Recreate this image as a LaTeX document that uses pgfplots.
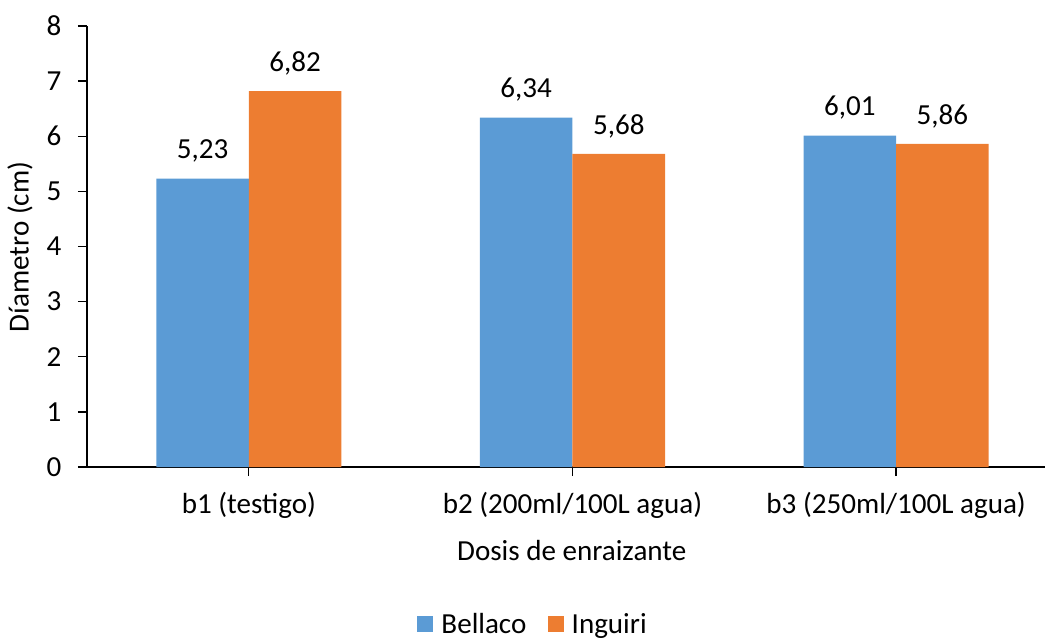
\documentclass[border=0pt]{standalone}
\usepackage{pgfplots}
\pgfplotsset{compat=1.18}
\usepackage{fontspec}
\setmainfont{Carlito}
\definecolor{bellaco}{HTML}{5B9BD5}
\definecolor{inguiri}{HTML}{ED7D31}
\newcommand{\chartfont}{\fontsize{21.8pt}{25pt}\selectfont}
\begin{document}
\begin{tikzpicture}[x=0.75pt,y=0.75pt]
\path[use as bounding box] (-87,-172) rectangle (958,467);
\begin{axis}[
  at={(0,0)}, anchor=south west,
  scale only axis,
  width=718.5pt, height=330.75pt,
  ybar=0pt, bar width=69.4pt,
  xmin=-0.5, xmax=2.46,
  ymin=0, ymax=8, ytick={0,1,...,8},
  xtick=data,
  xticklabels={b1 (testigo), b2 (200ml/100L agua), b3 (250ml/100L agua)},
  axis x line*=bottom, axis y line*=left,
  axis line style={black, line width=1pt, -},
  tick style={black, line width=1pt},
  tick align=outside, major tick length=6.75pt,
  /pgf/number format/assume math mode=true,
  ticklabel style={font=\chartfont},
  label style={font=\chartfont},
  yticklabel style={xshift=-9pt},
  xticklabel style={yshift=-9pt},
  xlabel={Dosis de enraizante},
  ylabel={Díametro (cm)},
  xlabel style={at={(axis description cs:0.506,-0.19)}, anchor=center},
  ylabel style={at={(axis description cs:-0.07,0.499)}, anchor=center},
  nodes near coords,
  nodes near coords style={font=\chartfont, yshift=8.5pt,
    /pgf/number format/.cd, fixed, fixed zerofill, precision=2, use comma, assume math mode=true},
  legend style={at={(axis description cs:0.466,-0.356)}, anchor=center,
    draw=none, legend columns=2, font=\chartfont,
    /tikz/every odd column/.append style={column sep=4pt},
    /tikz/every even column/.append style={column sep=14pt}},
  legend image code/.code={\fill[#1] (0pt,-6pt) rectangle (12pt,6pt);},
]
\addplot[fill=bellaco, draw=none] coordinates {(0,5.23) (1,6.34) (2,6.01)};
\addplot[fill=inguiri, draw=none] coordinates {(0,6.82) (1,5.68) (2,5.86)};
\legend{Bellaco, Inguiri}
\end{axis}
\end{tikzpicture}
\end{document}
